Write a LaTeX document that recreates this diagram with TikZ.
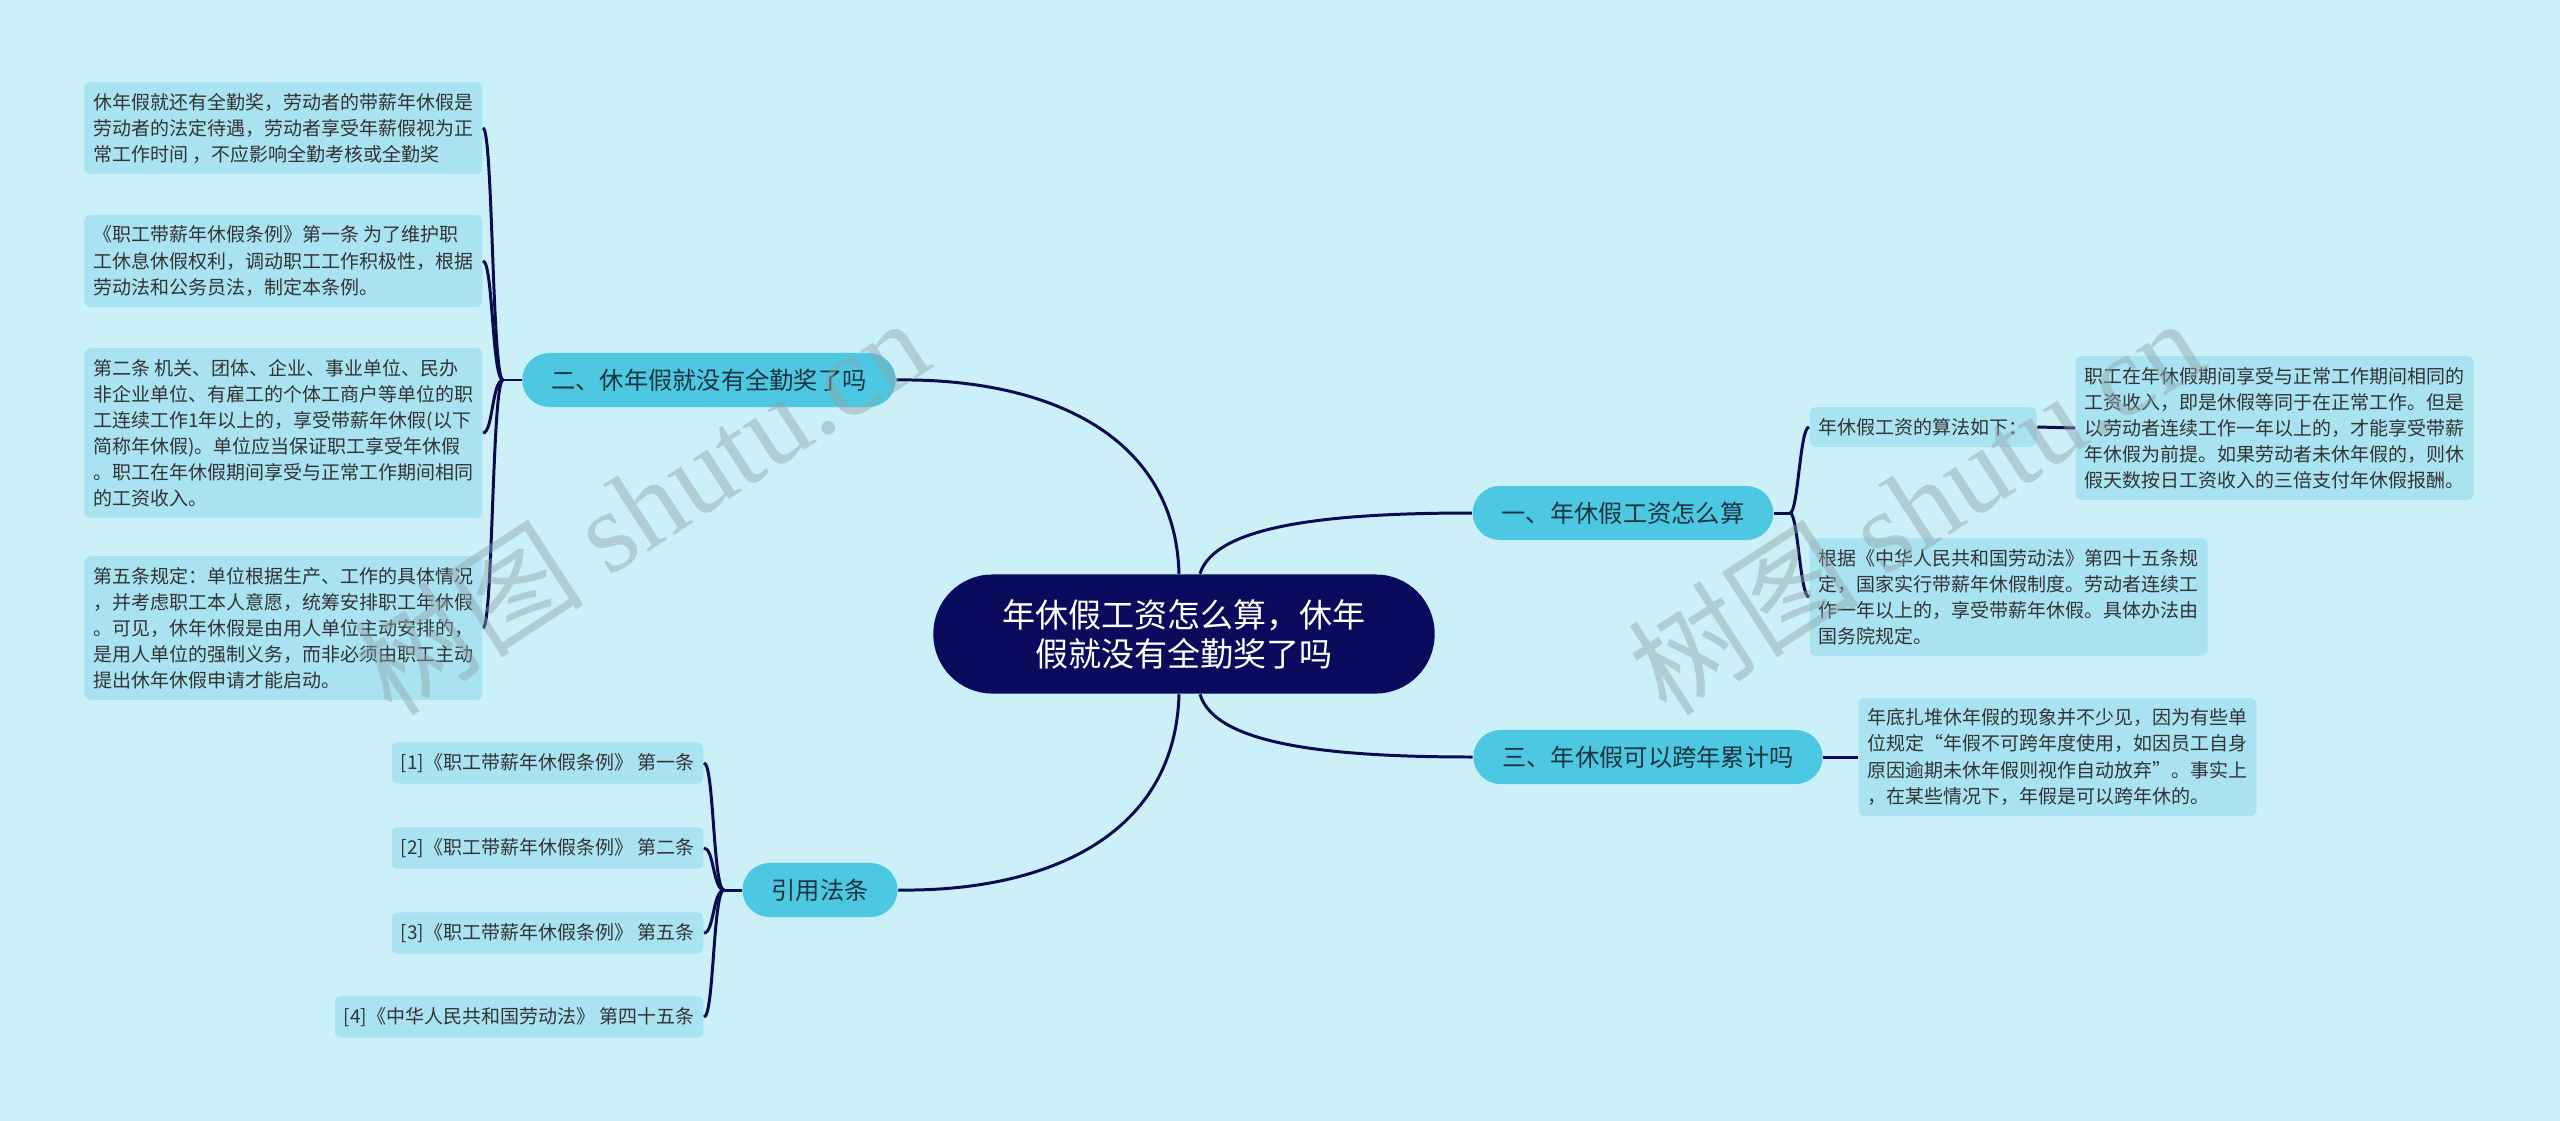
\documentclass[tikz,border=0pt]{standalone}
\usepackage{fontspec}
\setmainfont{Noto Sans CJK SC}
\newfontfamily\wmserif{Liberation Serif}
\usetikzlibrary{positioning, calc}
\definecolor{PageCyan}{HTML}{CBF0F8}
\definecolor{RootNavy}{HTML}{0B0B5E}
\definecolor{TopicCyan}{HTML}{4CC8E2}
\definecolor{TopicInk}{HTML}{1C3440}
\definecolor{LeafBlue}{HTML}{A9E3F1}
\definecolor{LeafInk}{HTML}{333333}
\definecolor{LinkNavy}{HTML}{0B0B4F}
\definecolor{WaterGray}{HTML}{8FA3A8}

\begin{document}
\begin{tikzpicture}[
    x=0.01cm, y=-0.01cm,
    rootnode/.style={rectangle, rounded corners=0.59cm, fill=RootNavy, text=white,
                     minimum width=5.01cm, minimum height=1.19cm, align=center,
                     font=\fontsize{9.4}{11.1}\selectfont},
    topic/.style={rectangle, rounded corners=0.27cm, fill=TopicCyan, text=TopicInk,
                  minimum height=0.54cm, inner xsep=0.29cm, inner ysep=0pt,
                  font=\fontsize{6.9}{8}\selectfont},
    leaf/.style={rectangle, rounded corners=0.06cm, fill=LeafBlue, text=LeafInk,
                 inner xsep=0.09cm, inner ysep=0.11cm, align=left,
                 font=\fontsize{5.4}{7.4}\selectfont},
    link/.style={draw=LinkNavy, line width=0.85pt},
    watermark/.style={text=WaterGray, opacity=0.45, rotate=33,
                      font=\fontsize{33}{38}\selectfont}
]
  \useasboundingbox[fill=PageCyan] (0,0) rectangle (2560,1121);

  % Centre
  \node[rootnode] (root) at (1184,634) {年休假工资怎么算，休年\\假就没有全勤奖了吗};

  % Topics
  \node[topic] (b1) at (1623,513) {一、年休假工资怎么算};
  \node[topic] (b2) at (709,380) {二、休年假就没有全勤奖了吗};
  \node[topic] (b3) at (1648,757) {三、年休假可以跨年累计吗};
  \node[topic] (b4) at (820,890) {引用法条};

  % Leaves of topic two
  \node[leaf, anchor=east] (l21) at (483,128) {休年假就还有全勤奖，劳动者的带薪年休假是\\劳动者的法定待遇，劳动者享受年薪假视为正\\常工作时间 ，不应影响全勤考核或全勤奖};
  \node[leaf, anchor=east] (l22) at (483,261) {《职工带薪年休假条例》第一条 为了维护职\\工休息休假权利，调动职工工作积极性，根据\\劳动法和公务员法，制定本条例。};
  \node[leaf, anchor=east] (l23) at (483,433) {第二条 机关、团体、企业、事业单位、民办\\非企业单位、有雇工的个体工商户等单位的职\\工连续工作1年以上的，享受带薪年休假(以下\\简称年休假)。单位应当保证职工享受年休假\\。职工在年休假期间享受与正常工作期间相同\\的工资收入。};
  \node[leaf, anchor=east] (l24) at (483,628) {第五条规定：单位根据生产、工作的具体情况\\，并考虑职工本人意愿，统筹安排职工年休假\\。可见，休年休假是由用人单位主动安排的，\\是用人单位的强制义务，而非必须由职工主动\\提出休年休假申请才能启动。};

  % Leaves of topic one
  \node[leaf, anchor=west] (l11) at (1809,427) {年休假工资的算法如下：};
  \node[leaf, anchor=west] (l12) at (2075,428) {职工在年休假期间享受与正常工作期间相同的\\工资收入，即是休假等同于在正常工作。但是\\以劳动者连续工作一年以上的，才能享受带薪\\年休假为前提。如果劳动者未休年假的，则休\\假天数按日工资收入的三倍支付年休假报酬。};
  \node[leaf, anchor=west] (l13) at (1809,597) {根据《中华人民共和国劳动法》第四十五条规\\定，国家实行带薪年休假制度。劳动者连续工\\作一年以上的，享受带薪年休假。具体办法由\\国务院规定。};

  % Leaf of topic three
  \node[leaf, anchor=west] (l31) at (1858,757) {年底扎堆休年假的现象并不少见，因为有些单\\位规定“年假不可跨年度使用，如因员工自身\\原因逾期未休年假则视作自动放弃”。事实上\\，在某些情况下，年假是可以跨年休的。};

  % Cited articles
  \foreach \i/\yy/\txt in {1/763/{[1]《职工带薪年休假条例》 第一条},
                           2/848/{[2]《职工带薪年休假条例》 第二条},
                           3/933/{[3]《职工带薪年休假条例》 第五条},
                           4/1017/{[4]《中华人民共和国劳动法》 第四十五条}}{
    \node[leaf, anchor=east] (f\i) at (704,\yy) {\txt};
  }

  % Junctions
  \coordinate (j2) at (503,380);
  \coordinate (j1) at (1790,513);
  \coordinate (j4) at (724,890);

  % Main branches
  \draw[link] ($(root.north)+(-5,0)$) .. controls (1175,430) and (1040,378) .. (b2.east);
  \draw[link] ($(root.north)+(16,0)$) .. controls (1215,525) and (1330,513) .. (b1.west);
  \draw[link] ($(root.south)+(16,0)$) .. controls (1215,745) and (1330,757) .. (b3.west);
  \draw[link] ($(root.south)+(-5,0)$) .. controls (1175,840) and (1040,892) .. (b4.east);

  % Brackets
  \draw[link] (b2.west) -- (j2);
  \foreach \n in {l21,l22,l23,l24}{
    \draw[link] (j2) .. controls ($(j2)+(-11,0)$) and ($(\n.east)+(10,0)$) .. (\n.east);
  }
  \draw[link] (b1.east) -- (j1);
  \foreach \n in {l11,l13}{
    \draw[link] (j1) .. controls ($(j1)+(8,0)$) and ($(\n.west)+(-9,0)$) .. (\n.west);
  }
  \draw[link] (l11.east) -- (l12.west);
  \draw[link] (b3.east) -- (l31.west);
  \draw[link] (b4.west) -- (j4);
  \foreach \i in {1,...,4}{
    \draw[link] (j4) .. controls ($(j4)+(-11,0)$) and ($(f\i.east)+(10,0)$) .. (f\i.east);
  }

  % Watermarks
  \node[watermark] (wm1) at (640,505) {树图 {\wmserif shutu.cn}};
  \node[watermark] (wm2) at (1915,505) {树图 {\wmserif shutu.cn}};
\end{tikzpicture}
\end{document}
